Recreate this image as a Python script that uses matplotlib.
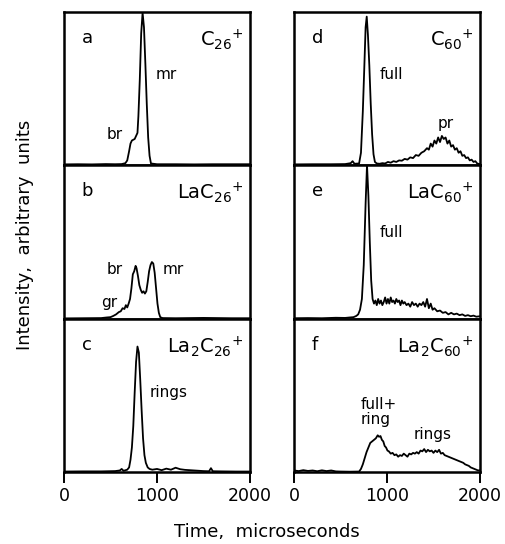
import matplotlib

matplotlib.use("Agg")
import matplotlib.pyplot as plt

plt.rcParams["font.family"] = ["DejaVu Sans"]
plt.rcParams["mathtext.default"] = "regular"

# --- data (time in microseconds, arbitrary intensity) ---
a_t = [0, 150, 300, 450, 550, 620, 660, 680, 700, 715, 730, 745, 760, 775, 790, 800,
       815, 830, 845, 860, 875, 890, 905, 920, 935, 1000, 1200, 1400, 1600, 1800, 2000]
a_y = [0.004, 0.005, 0.004, 0.006, 0.005, 0.006, 0.012, 0.03, 0.09, 0.14, 0.16, 0.165,
       0.17, 0.19, 0.21, 0.32, 0.56, 0.86, 0.995, 0.9, 0.66, 0.4, 0.18, 0.06, 0.01,
       0.005, 0.005, 0.004, 0.005, 0.005, 0.005]

b_t = [0, 200, 400, 460, 500, 530, 560, 590, 610, 630, 650, 665, 680, 695, 710, 725,
       740, 755, 770, 780, 795, 810, 825, 840, 855, 870, 885, 900, 915, 930, 945, 960,
       975, 990, 1005, 1020, 1035, 1060, 1200, 1500, 1800, 2000]
b_y = [0.004, 0.005, 0.006, 0.01, 0.012, 0.02, 0.03, 0.045, 0.05, 0.07, 0.065, 0.09,
       0.075, 0.1, 0.13, 0.2, 0.29, 0.31, 0.345, 0.33, 0.28, 0.22, 0.19, 0.17, 0.18,
       0.165, 0.18, 0.24, 0.31, 0.35, 0.37, 0.36, 0.3, 0.2, 0.1, 0.04, 0.012, 0.006,
       0.005, 0.007, 0.005, 0.005]

c_t = [0, 200, 400, 550, 600, 620, 640, 680, 700, 715, 730, 745, 760, 775, 790, 805,
       820, 835, 850, 865, 880, 900, 920, 950, 1000, 1050, 1100, 1150, 1200, 1250, 1300,
       1350, 1400, 1450, 1500, 1560, 1580, 1600, 1700, 1850, 2000]
c_y = [0.003, 0.004, 0.004, 0.006, 0.01, 0.02, 0.008, 0.015, 0.03, 0.08, 0.16, 0.3,
       0.52, 0.72, 0.82, 0.78, 0.6, 0.4, 0.22, 0.11, 0.06, 0.03, 0.02, 0.015, 0.02,
       0.012, 0.022, 0.015, 0.028, 0.018, 0.014, 0.012, 0.01, 0.008, 0.006, 0.005,
       0.025, 0.005, 0.004, 0.003, 0.003]

d_t = [0, 200, 400, 550, 610, 630, 650, 700, 720, 740, 755, 770, 782, 795, 810, 825,
       840, 855, 870, 890, 920, 950, 980, 1010, 1040, 1070, 1100, 1130, 1160, 1190,
       1220, 1250, 1280, 1310, 1340, 1370, 1400, 1430, 1450, 1470, 1490, 1510, 1530,
       1550, 1570, 1590, 1610, 1630, 1650, 1670, 1690, 1710, 1730, 1750, 1770, 1790,
       1810, 1830, 1850, 1870, 1890, 1910, 1930, 1950, 1970, 2000]
d_y = [0.004, 0.005, 0.005, 0.006, 0.012, 0.025, 0.008, 0.01, 0.08, 0.35, 0.62, 0.9,
       0.97, 0.85, 0.65, 0.4, 0.2, 0.07, 0.02, 0.01, 0.008, 0.012, 0.01, 0.02, 0.015,
       0.025, 0.02, 0.03, 0.028, 0.04, 0.035, 0.05, 0.045, 0.065, 0.06, 0.08, 0.09,
       0.11, 0.1, 0.14, 0.12, 0.16, 0.14, 0.18, 0.15, 0.19, 0.17, 0.18, 0.14, 0.16,
       0.12, 0.13, 0.1, 0.11, 0.08, 0.09, 0.06, 0.065, 0.045, 0.05, 0.03, 0.035, 0.02,
       0.025, 0.01, 0.005]

e_t = [0, 150, 300, 450, 550, 600, 640, 670, 690, 710, 730, 750, 770, 785, 800, 815,
       830, 845, 860, 875, 890, 905, 920, 935, 950, 965, 980, 995, 1010, 1025, 1040,
       1055, 1070, 1085, 1100, 1115, 1130, 1145, 1160, 1175, 1190, 1210, 1230, 1250,
       1270, 1290, 1310, 1330, 1350, 1370, 1390, 1410, 1430, 1450, 1470, 1490, 1510,
       1540, 1570, 1600, 1630, 1660, 1690, 1720, 1750, 1780, 1810, 1840, 1870, 1900,
       1930, 1960, 2000]
e_y = [0.005, 0.006, 0.005, 0.008, 0.007, 0.01, 0.012, 0.02, 0.03, 0.06, 0.13, 0.35,
       0.75, 1.0, 0.8, 0.5, 0.25, 0.13, 0.1, 0.12, 0.09, 0.13, 0.1, 0.12, 0.09, 0.11,
       0.14, 0.1, 0.13, 0.1, 0.14, 0.11, 0.12, 0.1, 0.13, 0.11, 0.12, 0.09, 0.12, 0.1,
       0.11, 0.09, 0.1, 0.08, 0.11, 0.09, 0.1, 0.08, 0.1, 0.09, 0.11, 0.08, 0.13, 0.07,
       0.1, 0.06, 0.07, 0.05, 0.055, 0.04, 0.045, 0.03, 0.04, 0.03, 0.035, 0.025, 0.03,
       0.02, 0.025, 0.018, 0.022, 0.015, 0.018]

f_t = [0, 50, 100, 150, 200, 250, 300, 350, 400, 450, 500, 600, 700, 720, 740, 760,
       780, 800, 820, 840, 860, 880, 900, 915, 930, 945, 960, 975, 990, 1005, 1020,
       1040, 1060, 1080, 1100, 1120, 1140, 1160, 1180, 1200, 1220, 1240, 1260, 1280,
       1300, 1320, 1340, 1360, 1380, 1400, 1420, 1440, 1460, 1480, 1500, 1520, 1540,
       1560, 1580, 1600, 1620, 1640, 1660, 1680, 1700, 1720, 1740, 1760, 1780, 1800,
       1820, 1840, 1860, 1880, 1900, 1920, 1940, 1960, 1980, 2000]
f_y = [0.01, 0.006, 0.012, 0.007, 0.01, 0.005, 0.011, 0.006, 0.01, 0.004, 0.003, 0.002,
       0.003, 0.02, 0.05, 0.09, 0.13, 0.16, 0.19, 0.2, 0.21, 0.22, 0.24, 0.23, 0.235,
       0.21, 0.2, 0.17, 0.16, 0.14, 0.135,
       0.12, 0.125, 0.11, 0.115, 0.1, 0.11, 0.105, 0.12, 0.11, 0.1, 0.12, 0.115, 0.125,
       0.12, 0.13, 0.12, 0.14, 0.135, 0.15, 0.13, 0.145, 0.135, 0.14, 0.125, 0.14, 0.13,
       0.145, 0.12,
       0.125, 0.11, 0.105, 0.1, 0.095, 0.09, 0.085, 0.08, 0.075, 0.07, 0.065, 0.06,
       0.05, 0.045, 0.04, 0.03, 0.025, 0.02, 0.015, 0.01, 0.012]

x_ticks = [0, 1000, 2000]

# (letter, ion label, series, annotations [(text, x frac, y frac)])
panels_left = [
    ("a", r"C$_{26}{}^{+}$", a_t, a_y, [("br", 0.23, 0.2), ("mr", 0.49, 0.59)]),
    ("b", r"LaC$_{26}{}^{+}$", b_t, b_y, [("br", 0.23, 0.32), ("mr", 0.53, 0.32), ("gr", 0.2, 0.11)]),
    ("c", r"La$_2$C$_{26}{}^{+}$", c_t, c_y, [("rings", 0.46, 0.52)]),
]
panels_right = [
    ("d", r"C$_{60}{}^{+}$", d_t, d_y, [("full", 0.46, 0.59), ("pr", 0.77, 0.27)]),
    ("e", r"LaC$_{60}{}^{+}$", e_t, e_y, [("full", 0.46, 0.56)]),
    ("f", r"La$_2$C$_{60}{}^{+}$", f_t, f_y, [("full+\nring", 0.36, 0.39), ("rings", 0.645, 0.245)]),
]

W, H = 506, 544
fig = plt.figure(figsize=(W / 100, H / 100), dpi=100)

edges = [12, 165, 319, 472]  # panel edges, pixels from top
col_x = [64, 294]
col_w = 186

for col, panels in enumerate([panels_left, panels_right]):
    for row, (letter, ion, t, y, notes) in enumerate(panels):
        top, bot = edges[row], edges[row + 1]
        ax = fig.add_axes([col_x[col] / W, 1 - bot / H, col_w / W, (bot - top) / H])
        ax.plot(t, y, color="black", lw=1.3)
        ax.set_xlim(0, 2000)
        ax.set_ylim(0, 1.0)
        ax.set_yticks([])
        for s in ax.spines.values():
            s.set_linewidth(1.8)
        if row == 2:
            ax.set_xticks(x_ticks)
            ax.tick_params(axis="x", direction="out", length=8, width=1.4,
                           labelsize=12.5, pad=3)
        else:
            ax.set_xticks([])
        ax.text(0.095, 0.83, letter, transform=ax.transAxes, fontsize=13,
                ha="left", va="center")
        ax.text(0.965, 0.82, ion, transform=ax.transAxes, fontsize=14,
                ha="right", va="center")
        for txt, fx, fy in notes:
            ax.text(fx, fy, txt, transform=ax.transAxes, fontsize=11,
                    ha="left", va="center", linespacing=1.0)

fig.text(25 / W, 1 - 235 / H, "Intensity,  arbitrary  units", rotation=90,
         ha="center", va="center", fontsize=13)
fig.text(267 / W, 1 - 532 / H, "Time,  microseconds", ha="center", va="center",
         fontsize=13)

fig.savefig("out.png", dpi=100)
